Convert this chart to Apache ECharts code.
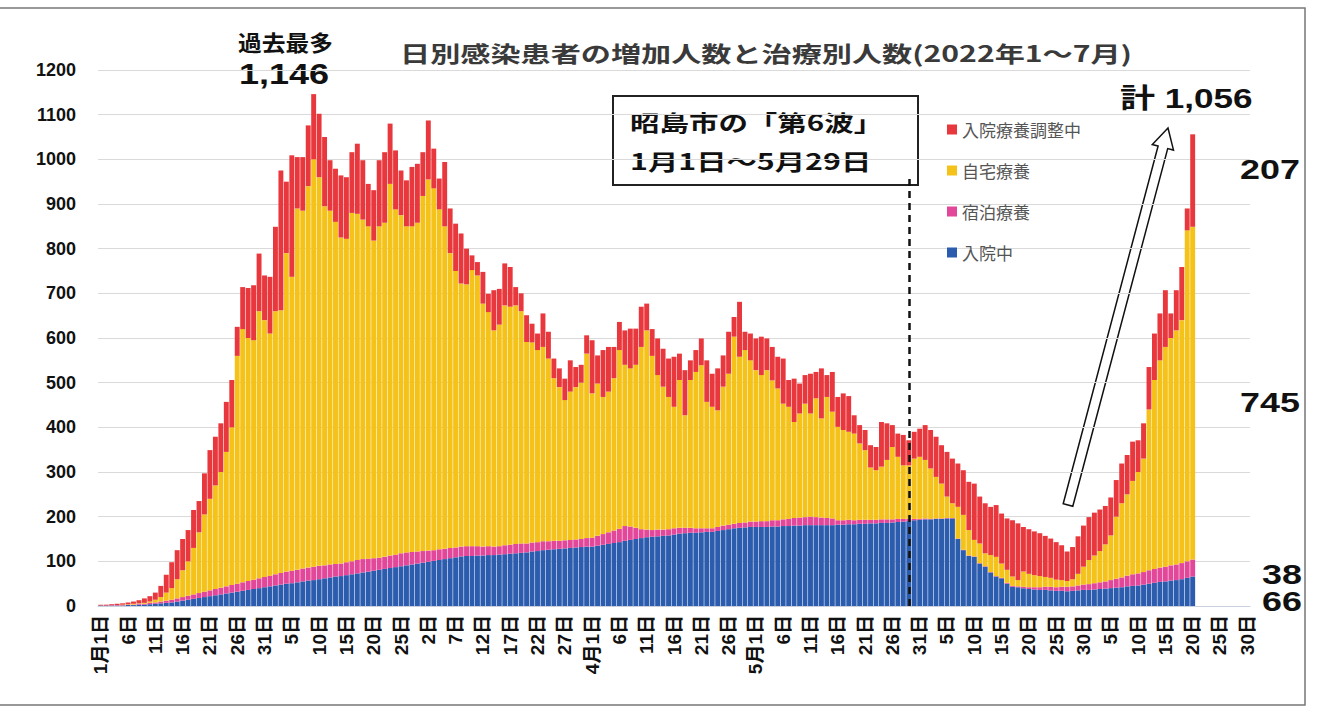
<!DOCTYPE html>
<html lang="ja">
<head>
<meta charset="UTF-8">
<title>日別感染患者の増加人数と治療別人数</title>
<script src="https://cdn.jsdelivr.net/npm/echarts@6/dist/echarts.min.js"></script>
<style>
  html, body { margin: 0; padding: 0; background: #fff; }
  #chart { width: 1318px; height: 720px; }
</style>
</head>
<body>
<div id="chart"></div>
<script>
// 日付（1月1日～7月30日）
var monthDays = [31, 28, 31, 30, 31, 30, 30];
var categories = [];
monthDays.forEach(function (n, m) {
  for (var d = 1; d <= n; d++) categories.push((m + 1) + '月' + d + '日');
});

// 5日おきの目盛ラベル
var tickLabels = [
  '1月1日', '6日', '11日', '16日', '21日', '26日', '31日',
  '5日', '10日', '15日', '20日', '25日',
  '2日', '7日', '12日', '17日', '22日', '27日',
  '4月1日', '6日', '11日', '16日', '21日', '26日',
  '5月1日', '6日', '11日', '16日', '21日', '26日', '31日',
  '5日', '10日', '15日', '20日', '25日', '30日',
  '5日', '10日', '15日', '20日', '25日', '30日'
];

// 入院中
var inpatient = [
  1,1,1,1,1,2,2,3,3,4, 5,6,7,8,10,12,14,16,18,20, 22,24,26,28,30,32,34,36,38,40, 42,44,46,48,
  50,51,53,55,57,58,60,62,64,66, 67,69,71,73,75,77,79,81,83,85, 87,89,91,93,95,97,99,101,103,105, 107,109,111,
  112,112,113,113,114,114,115,116,117,118, 119,120,122,123,125,126,127,128,129,130, 131,132,133,133,135,137,139,141,143,146, 148,150,152,154,
  155,156,157,158,160,162,163,164,164,165, 166,166,168,170,172,174,175,176,177,177, 177,177,178,178,179,179,180,180,181,181, 181,181,181,181,
  182,182,183,183,184,184,185,185,186,186, 187,188,189,190,192,193,194,194,195,195, 196,196,150,125,112,110,95,88,75,66, 62,50,43,42,
  40,38,37,36,36,35,34,34,33,34, 35,36,36,37,38,39,40,41,42,44, 45,46,48,50,52,54,55,57,58,60, 63,66
];

// 宿泊療養
var hotel = [
  0,0,1,1,1,1,1,2,2,3, 3,4,5,6,7,8,9,10,11,12, 13,14,15,16,17,18,19,20,21,22, 23,24,25,26,
  27,28,28,29,29,30,30,29,29,28, 28,29,29,30,30,29,28,27,27,28, 28,29,29,28,27,26,25,24,24,23, 23,22,22,
  22,22,21,20,20,19,19,20,20,21, 21,20,20,20,20,19,19,18,18,18, 18,18,19,20,22,24,26,28,30,33, 30,25,20,17,
  15,15,14,14,14,13,12,11,10,9, 8,8,9,10,10,10,11,11,12,12, 13,13,14,14,15,16,17,18,18,19, 18,17,16,15,
  10,10,10,9,9,9,8,8,8,8, 7,7,6,5,3,2,2,1,1,1, 1,1,1,1,1,1,1,1,1,1, 1,2,2,2,
  3,4,5,6,7,8,8,9,10,10, 11,12,13,14,15,16,18,20,22,24, 26,27,28,30,31,32,33,34,35,36, 37,38
];

// 自宅療養
var home = [
  0,0,0,0,1,1,2,1,2,3, 6,10,18,26,43,60,77,104,136,173, 205,232,259,301,353,510,567,544,536,598, 575,542,589,588,
  713,658,809,801,854,912,870,804,792,766, 730,724,780,775,760,744,711,742,748,832, 773,757,730,729,736,795,831,810,761,722, 660,619,589,
  586,618,606,544,524,484,496,537,533,534, 520,451,448,430,435,409,364,344,314,332, 341,350,413,323,341,307,315,341,400,361, 354,365,408,446,
  390,346,320,296,272,331,252,331,350,365, 283,272,261,311,338,419,372,386,361,339, 327,338,313,295,259,251,215,233,254,231, 266,222,271,239,
  209,202,197,194,171,156,117,111,118,133, 162,139,120,120,135,139,131,113,93,78, 48,33,71,78,57,37,44,29,38,43, 32,29,21,14,
  34,30,27,25,22,20,17,15,13,16, 26,40,54,62,70,83,100,139,166,182, 209,227,254,360,423,464,492,509,524,544, 741,745
];

// 入院療養調整中
var adjusting = [
  2,2,2,3,3,4,5,7,10,12, 16,25,40,58,65,70,70,85,70,92, 109,109,109,112,106,65,94,112,123,129, 100,127,189,313,
  160,272,115,120,136,146,142,155,113,119, 139,138,136,157,133,95,113,148,158,135, 132,100,103,133,132,98,132,89,69,144, 100,106,112,
  80,33,30,71,41,90,80,94,89,41, 40,60,42,37,75,60,44,42,48,70, 45,40,41,119,63,105,100,70,63,77, 89,81,90,60,
  60,82,85,86,112,59,101,44,49,60, 93,74,94,70,94,44,123,41,60,71, 86,71,75,71,101,60,97,67,64,89, 59,112,49,89,
  67,82,80,41,41,45,50,52,100,82, 49,52,68,56,60,63,78,86,90,86, 100,100,97,100,108,126,105,112,108,116, 112,115,126,127,
  100,100,98,96,92,88,84,78,66,72, 84,92,96,96,93,86,85,82,89,88, 88,71,79,95,104,105,127,55,90,119, 49,207
];

var waveEndIndex = 148;   // 5月29日
var numFont = '"Liberation Sans", Arial, sans-serif';
var jpFont = '"Noto Sans CJK JP", sans-serif';

var chart = echarts.init(document.getElementById('chart'), null, { renderer: 'svg' });

function barSeries(name, data, color) {
  return {
    name: name,
    type: 'bar',
    stack: 'total',
    data: data,
    barCategoryGap: '10%',
    itemStyle: { color: color },
    emphasis: { disabled: true }
  };
}

var series = [
  barSeries('入院中', inpatient, '#2b5cae'),
  barSeries('宿泊療養', hotel, '#e2479a'),
  barSeries('自宅療養', home, '#f5c21a'),
  barSeries('入院療養調整中', adjusting, '#e8383d')
];
// 第6波の終わり（破線）
series[3].markLine = {
  silent: true,
  symbol: 'none',
  label: { show: false },
  lineStyle: { type: [7, 5], color: '#111', width: 2.5 },
  data: [[{ coord: [categories[waveEndIndex], 0] }, { coord: [categories[waveEndIndex], 965] }]]
};

var option = {
  animation: false,
  backgroundColor: '#fff',
  grid: { left: 98, right: 68, top: 70, bottom: 114, containLabel: false },
  legend: {
    data: ['入院療養調整中', '自宅療養', '宿泊療養', '入院中'],
    orient: 'vertical',
    left: 942,
    top: 116,
    itemGap: 24,
    itemWidth: 10,
    itemHeight: 10,
    icon: 'rect',
    textStyle: { fontSize: 17, color: '#555', fontFamily: jpFont }
  },
  xAxis: {
    type: 'category',
    data: categories,
    axisTick: { show: false },
    axisLine: { lineStyle: { color: '#c9d0de' } },
    axisLabel: {
      interval: 4,
      rotate: 90,
      margin: 9,
      fontSize: 19,
      fontWeight: 'bold',
      color: '#111',
      fontFamily: numFont + ', ' + jpFont,
      formatter: function (v, idx) { return tickLabels[idx / 5]; }
    }
  },
  yAxis: {
    type: 'value',
    min: 0,
    max: 1200,
    interval: 100,
    axisLine: { show: false },
    axisTick: { show: false },
    splitLine: { lineStyle: { color: '#dadada' } },
    axisLabel: {
      margin: 22, fontSize: 18, fontWeight: 'bold', color: '#111', fontFamily: numFont,
      formatter: function (v) { return String(v); }
    }
  },
  series: series,
  graphic: [
    { type: 'rect', silent: true, shape: { x: -2, y: 8, width: 1307, height: 697 },
      style: { fill: 'none', stroke: '#777', lineWidth: 1.5 } },
    { type: 'text', x: 400, y: 52, scaleX: 1.37,
      style: { text: '日別感染患者の増加人数と治療別人数(2022年1～7月)', fill: '#3a3a3a',
        font: 'bold 22px ' + jpFont, verticalAlign: 'middle', align: 'left' } },
    { type: 'text', x: 238, y: 41, scaleX: 1.08,
      style: { text: '過去最多', fill: '#111', font: 'bold 22px ' + jpFont, verticalAlign: 'middle' } },
    { type: 'text', x: 239, y: 74, scaleX: 1.2,
      style: { text: '1,146', fill: '#111', font: 'bold 30px ' + numFont, verticalAlign: 'middle' } },
    { type: 'rect', shape: { x: 613, y: 96, width: 305, height: 89 },
      style: { fill: '#fff', stroke: '#222', lineWidth: 2 } },
    { type: 'text', x: 630, y: 121, scaleX: 1.34,
      style: { text: '昭島市の「第6波」', fill: '#111', font: 'bold 22px ' + jpFont, verticalAlign: 'middle' } },
    { type: 'text', x: 630, y: 160, scaleX: 1.38,
      style: { text: '1月1日～5月29日', fill: '#111', font: 'bold 22px ' + jpFont, verticalAlign: 'middle' } },
    { type: 'polygon', shape: { points: [[1063.2, 503.7], [1158.1, 146.0], [1152.3, 144.5], [1168, 128],
        [1173.5, 150.1], [1167.7, 148.6], [1072.8, 506.3]] },
      style: { fill: '#fff', stroke: '#111', lineWidth: 1.5 } },
    { type: 'text', x: 1120, y: 99, scaleX: 1.3,
      style: { text: '計 1,056', fill: '#111', font: 'bold 27px ' + numFont + ', ' + jpFont, verticalAlign: 'middle' } },
    { type: 'text', x: 1240, y: 170, scaleX: 1.33,
      style: { text: '207', fill: '#111', font: 'bold 27px ' + numFont, verticalAlign: 'middle' } },
    { type: 'text', x: 1240, y: 403, scaleX: 1.33,
      style: { text: '745', fill: '#111', font: 'bold 27px ' + numFont, verticalAlign: 'middle' } },
    { type: 'text', x: 1262, y: 575, scaleX: 1.33,
      style: { text: '38', fill: '#111', font: 'bold 27px ' + numFont, verticalAlign: 'middle' } },
    { type: 'text', x: 1262, y: 602, scaleX: 1.33,
      style: { text: '66', fill: '#111', font: 'bold 27px ' + numFont, verticalAlign: 'middle' } }
  ]
};

chart.setOption(option);
</script>
</body>
</html>
